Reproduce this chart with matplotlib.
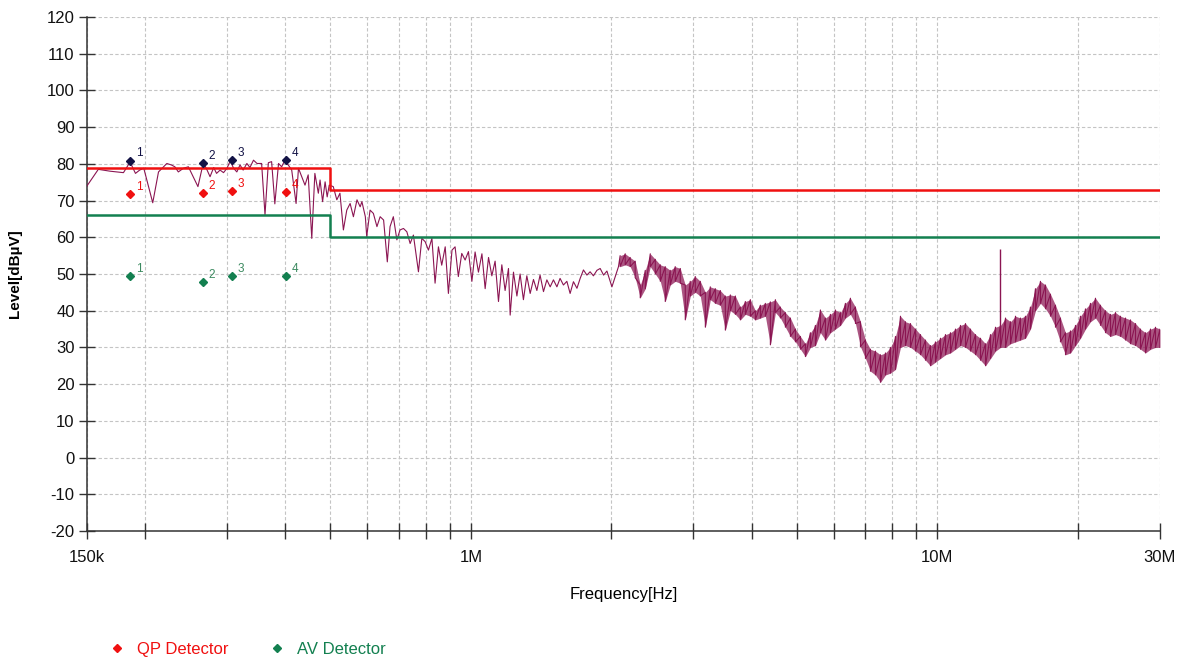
import numpy as np
import matplotlib
matplotlib.use("Agg")
import matplotlib.pyplot as plt
from matplotlib.ticker import FixedLocator, FixedFormatter, NullFormatter

plt.rcParams['font.family'] = ['Liberation Sans', 'DejaVu Sans']
plt.rcParams['axes.unicode_minus'] = False

# measured sweep, 150 kHz .. 2 MHz (kHz, dBuV)
sweep_khz = [150, 159, 168.5, 180, 186, 191, 195, 199, 208, 214,
             223, 228, 232, 236, 242, 248, 256, 260, 267, 272,
             276, 281, 285, 290, 295, 300, 305, 310, 315, 320,
             325, 331, 336, 342, 348, 356, 362, 368, 374, 380,
             387, 393, 398, 406, 413, 422, 427, 434, 441, 448,
             456, 463, 471, 475, 481, 487, 492, 497, 507, 516,
             524, 533, 542, 551, 560, 570, 579, 584, 594, 598,
             608, 618, 629, 639, 650, 662, 671, 682, 694, 705,
             717, 729, 741, 753, 772, 785, 798, 811, 825, 838,
             852, 866, 881, 895, 911, 925, 940, 956, 972, 988,
             1005, 1021, 1038, 1056, 1073, 1091, 1109, 1127, 1146, 1165,
             1184, 1204, 1214, 1234, 1255, 1275, 1296, 1318, 1340, 1362,
             1385, 1407, 1431, 1455, 1479, 1503, 1529, 1553, 1579, 1606,
             1632, 1659, 1688, 1715, 1743, 1773, 1801, 1831, 1863, 1893,
             1925, 1957, 1989, 2006, 2039, 2072]
sweep_dbuv = [73.8, 78.5, 78.0, 77.6, 80.5, 77.4, 78.3, 78.8, 69.4, 77.8,
              80.1, 79.7, 79.2, 77.8, 78.8, 79.2, 75.6, 73.8, 80.3, 78.3,
              76.5, 79.0, 77.4, 78.3, 77.6, 78.8, 80.8, 78.8, 77.8, 79.7,
              78.3, 80.1, 79.0, 81.0, 80.1, 80.1, 66.1, 80.3, 80.6, 69.1,
              80.1, 79.2, 80.6, 79.7, 78.3, 69.2, 78.8, 76.5, 74.2, 77.0,
              59.7, 77.4, 72.0, 75.6, 69.7, 75.1, 71.0, 74.2, 73.8, 70.2,
              72.0, 62.0, 67.4, 69.2, 65.6, 70.2, 68.3, 69.7, 65.6, 60.2,
              67.4, 66.5, 62.9, 65.6, 64.7, 53.3, 62.9, 65.6, 59.3, 62.0,
              62.4, 61.5, 58.3, 60.6, 50.6, 59.7, 58.8, 56.5, 59.7, 47.5,
              57.4, 52.4, 57.4, 44.7, 56.5, 57.4, 49.3, 55.6, 53.8, 56.1,
              48.0, 56.0, 50.5, 55.5, 46.0, 54.5, 49.5, 53.5, 42.5, 52.5,
              45.5, 51.5, 38.8, 50.5, 44.0, 50.0, 43.0, 49.5, 44.7, 48.5,
              45.5, 49.7, 45.2, 48.4, 46.5, 48.4, 46.5, 48.8, 47.0, 48.0,
              44.7, 47.9, 46.1, 48.8, 51.1, 49.7, 50.6, 49.5, 51.0, 51.5,
              49.7, 50.8, 48.0, 46.5, 49.3, 52.0]

# dense part of the sweep, 2 MHz .. 30 MHz: upper / lower edge of the noise band
band_khz = [2089, 2142, 2195, 2250, 2307, 2365, 2424, 2485, 2547, 2610,
            2675, 2742, 2811, 2881, 2953, 3027, 3103, 3181, 3260, 3342,
            3425, 3511, 3599, 3689, 3781, 3876, 3973, 4072, 4174, 4278,
            4385, 4495, 4607, 4722, 4841, 4962, 5086, 5213, 5343, 5477,
            5614, 5754, 5898, 6045, 6197, 6351, 6510, 6673, 6840, 7011,
            7186, 7366, 7550, 7739, 7932, 8131, 8334, 8542, 8756, 8975,
            9199, 9429, 9664, 9906, 10154, 10408, 10668, 10935, 11208, 11488,
            11775, 12069, 12371, 12680, 12998, 13323, 13655, 13997, 14346, 14705,
            15067, 15443, 15830, 16225, 16631, 17048, 17473, 17910, 18357, 18818,
            19287, 19770, 20262, 20769, 21288, 21820, 22365, 22925, 23498, 24085,
            24687, 25305, 25935, 26585, 27249, 27930, 28628, 29340, 30000]
band_hi = [55.0, 55.5, 54.5, 53.5, 47.0, 51.0, 55.5, 54.0, 52.5, 52.0,
           51.0, 52.0, 51.5, 47.0, 48.0, 49.3, 48.0, 45.0, 46.5, 46.0,
           45.5, 44.0, 44.3, 44.0, 41.0, 42.5, 43.0, 40.0, 41.5, 42.0,
           42.4, 43.0, 41.0, 39.5, 38.0, 35.0, 33.0, 31.0, 34.0, 36.0,
           40.2, 38.0, 39.0, 40.2, 39.5, 42.0, 43.4, 41.0, 37.0, 32.0,
           29.5, 29.0, 28.0, 28.5, 30.0, 33.0, 38.5, 37.0, 36.5, 35.0,
           33.5, 32.0, 30.5, 31.5, 32.5, 33.5, 34.0, 35.0, 36.0, 36.5,
           35.0, 33.5, 32.5, 31.0, 33.5, 35.5, 36.0, 38.0, 37.0, 38.5,
           38.0, 38.5, 41.0, 46.0, 48.0, 47.0, 44.5, 41.5, 38.0, 34.0,
           34.5, 36.0, 38.5, 40.5, 42.0, 43.4, 41.5, 40.0, 39.0, 39.5,
           38.5, 38.0, 37.5, 36.5, 35.0, 34.0, 35.0, 35.5, 35.0]
band_lo = [52.0, 52.5, 52.0, 49.0, 43.5, 46.0, 52.0, 50.0, 48.0, 42.5,
           47.0, 48.0, 47.5, 37.5, 44.0, 45.0, 44.0, 35.5, 43.0, 42.0,
           41.5, 34.7, 40.0, 39.0, 37.5, 39.0, 38.5, 37.5, 38.0, 38.5,
           30.7, 39.5, 38.0, 35.5, 33.0, 31.5, 29.5, 27.5, 30.0, 30.5,
           34.0, 32.0, 34.0, 35.0, 36.0, 38.0, 39.0, 36.5, 30.2, 27.0,
           23.5, 22.5, 20.5, 22.5, 23.0, 24.0, 30.0, 30.5, 30.0, 29.0,
           28.0, 26.5, 25.0, 26.0, 27.0, 28.0, 28.5, 29.5, 30.5, 30.0,
           29.0, 28.0, 26.5, 25.0, 27.0, 29.0, 30.0, 30.0, 31.0, 31.5,
           32.0, 32.5, 35.0, 40.0, 42.0, 40.5, 38.5, 35.5, 31.5, 28.0,
           28.5, 30.5, 32.5, 35.0, 37.0, 38.0, 36.0, 34.0, 33.0, 33.5,
           33.0, 32.0, 31.0, 30.5, 29.5, 28.5, 29.5, 30.0, 30.0]

# narrow carrier at 13.64 MHz
spike_khz = [13640]
spike_lo = [31.0]
spike_hi = [56.7]

# limit lines (kHz, dBuV)
limit_khz = [150, 500, 500, 30000]
qp_limit = [79, 79, 73, 73]
av_limit = [66, 66, 60, 60]

# final measurement points
mark_khz = [186, 267, 308, 402]
peak_dbuv = [80.9, 80.3, 81.0, 81.0]
qp_dbuv = [71.8, 72.0, 72.6, 72.2]
av_dbuv = [49.5, 47.9, 49.5, 49.5]

TRACE = '#8b1552'
RED = '#f01010'
GREEN = '#138050'
NAVY = '#121245'

fig = plt.figure(figsize=(11.85, 6.61), dpi=100)
ax = fig.add_axes([0.0730, 0.1967, 0.9059, 0.7776])

band_f = np.array(band_khz) * 1e3
zig = np.column_stack([band_hi, band_lo]).ravel()
trace_f = np.concatenate([np.array(sweep_khz) * 1e3, np.repeat(band_f, 2)])
trace_v = np.concatenate([sweep_dbuv, zig])

ax.fill_between(band_f, band_lo, band_hi, color=TRACE, alpha=0.72, lw=0, zorder=2)
ax.plot(trace_f, trace_v, color=TRACE, lw=0.8, zorder=3)
ax.vlines(np.array(spike_khz) * 1e3, spike_lo, spike_hi, color=TRACE, lw=1.0, zorder=3)

lim_f = np.array(limit_khz) * 1e3
ax.plot(lim_f, qp_limit, color=RED, lw=1.8, zorder=4)
ax.plot(lim_f, av_limit, color=GREEN, lw=1.8, zorder=4)

mk_f = np.array(mark_khz) * 1e3
ax.plot(mk_f, peak_dbuv, 'D', color=NAVY, ms=4.5, ls='none', zorder=5)
qp_h, = ax.plot(mk_f, qp_dbuv, 'D', color=RED, ms=4.5, ls='none', zorder=5)
av_h, = ax.plot(mk_f, av_dbuv, 'D', color=GREEN, ms=4.5, ls='none', zorder=5)

for vals, col in [(peak_dbuv, NAVY), (qp_dbuv, RED), (av_dbuv, '#3c8a60')]:
    for i, (f, v) in enumerate(zip(mk_f, vals)):
        ax.annotate(str(i + 1), (f, v), xytext=(4, 3), textcoords='offset points',
                    fontsize=8.5, color=col, zorder=6)

ax.set_xscale('log')
ax.set_xlim(150e3, 30e6)
ax.set_ylim(-20, 120)

major = [150e3, 1e6, 10e6, 30e6]
minor = [2e5, 3e5, 4e5, 5e5, 6e5, 7e5, 8e5, 9e5,
         2e6, 3e6, 4e6, 5e6, 6e6, 7e6, 8e6, 9e6, 2e7]
ax.xaxis.set_major_locator(FixedLocator(major))
ax.xaxis.set_major_formatter(FixedFormatter(['150k', '1M', '10M', '30M']))
ax.xaxis.set_minor_locator(FixedLocator(minor))
ax.xaxis.set_minor_formatter(NullFormatter())
ax.set_yticks(np.arange(-20, 121, 10))

ax.grid(True, which='both', color='#c4c4c4', linestyle=(0, (3, 2)), lw=0.8)
ax.set_axisbelow(True)

for s in ['top', 'right']:
    ax.spines[s].set_visible(False)
for s in ['left', 'bottom']:
    ax.spines[s].set_color('#333333')
    ax.spines[s].set_linewidth(1.1)

ax.tick_params(axis='both', which='both', direction='inout', length=11, width=1,
               color='#333333', labelsize=12, labelcolor='#111111')
ax.tick_params(axis='x', which='both', pad=8)
ax.tick_params(axis='y', pad=3)

ax.set_xlabel('Frequency[Hz]', fontsize=12, labelpad=16)
ax.set_ylabel('Level[dBµV]', fontsize=11, fontweight='bold', labelpad=18)

fig.legend(handles=[qp_h, av_h], labels=['QP Detector', 'AV Detector'],
           loc='center left', bbox_to_anchor=(0.092, 0.018), ncol=2, frameon=False,
           fontsize=12, handlelength=1.0, handletextpad=0.7, columnspacing=2.4,
           markerscale=0.8, borderpad=0, borderaxespad=0, labelcolor='markerfacecolor')

fig.savefig('out.png', dpi=100)
